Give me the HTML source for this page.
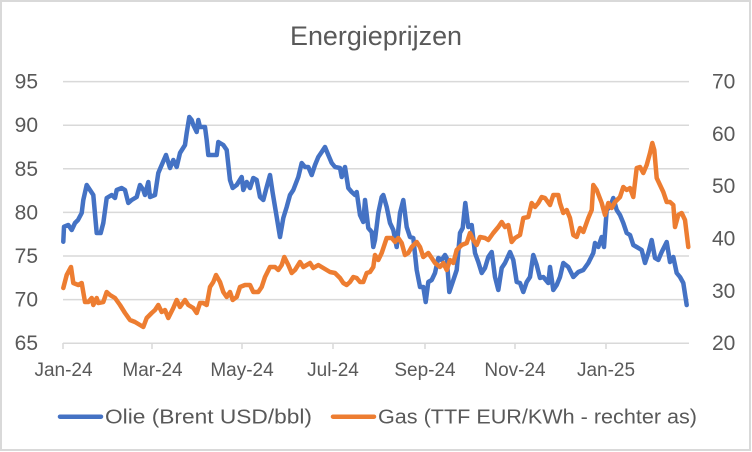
<!DOCTYPE html>
<html>
<head>
<meta charset="utf-8">
<style>
html,body{margin:0;padding:0;background:#fff;}
svg{display:block;}
text{font-family:"Liberation Sans",Arial,sans-serif;fill:#595959;}
</style>
</head>
<body>
<svg width="752" height="452" viewBox="0 0 752 452" xmlns="http://www.w3.org/2000/svg">
<rect x="1" y="1" width="749" height="449" fill="#fff" stroke="#d9d9d9" stroke-width="2"/>
<text x="376" y="45" font-size="27" text-anchor="middle" textLength="172" lengthAdjust="spacingAndGlyphs">Energieprijzen</text>
<g stroke="#d9d9d9" stroke-width="1.5">
<line x1="63" y1="81.6" x2="689" y2="81.6"/>
<line x1="63" y1="125.2" x2="689" y2="125.2"/>
<line x1="63" y1="168.8" x2="689" y2="168.8"/>
<line x1="63" y1="212.4" x2="689" y2="212.4"/>
<line x1="63" y1="256" x2="689" y2="256"/>
<line x1="63" y1="299.6" x2="689" y2="299.6"/>
<line x1="63" y1="343.2" x2="689" y2="343.2"/>
<line x1="63" y1="343" x2="63" y2="349"/>
<line x1="152" y1="343" x2="152" y2="349"/>
<line x1="242" y1="343" x2="242" y2="349"/>
<line x1="333" y1="343" x2="333" y2="349"/>
<line x1="425" y1="343" x2="425" y2="349"/>
<line x1="515" y1="343" x2="515" y2="349"/>
<line x1="606" y1="343" x2="606" y2="349"/>
</g>
<g font-size="21" text-anchor="end">
<text x="38" y="88.6">95</text>
<text x="38" y="132.2">90</text>
<text x="38" y="175.8">85</text>
<text x="38" y="219.4">80</text>
<text x="38" y="263">75</text>
<text x="38" y="306.6">70</text>
<text x="38" y="350.2">65</text>
</g>
<g font-size="21" text-anchor="start">
<text x="712" y="88.6">70</text>
<text x="712" y="140.9">60</text>
<text x="712" y="193.2">50</text>
<text x="712" y="245.6">40</text>
<text x="712" y="297.9">30</text>
<text x="712" y="350.2">20</text>
</g>
<g font-size="19" text-anchor="middle">
<text x="63.5" y="376">Jan-24</text>
<text x="152.5" y="376">Mar-24</text>
<text x="242" y="376">May-24</text>
<text x="333" y="376">Jul-24</text>
<text x="425" y="376">Sep-24</text>
<text x="515" y="376">Nov-24</text>
<text x="606" y="376">Jan-25</text>
</g>
<polyline fill="none" stroke="#4472C4" stroke-width="4.5" stroke-linejoin="round" stroke-linecap="round" points="63.3,241.7 64,226.7 68.3,225 71.7,230 75,223 78,220 81.7,213 83.3,200 86.7,185 90,190 93.3,195 96.7,233 100.7,233 103.3,223 106.7,198 111.7,195 115,198 116.7,190 121.7,188 125,190 128.3,203 131.7,200 136.7,197 140,185 143.3,190 145,195 148.3,182 150,197 155,195 158.3,173 161.7,165 166,155 170,168 173.3,160 176.7,167 180,153 185,145 186.7,133 189.3,117 191.7,120 193.3,125 196.7,132 198.3,120 200,127 205,127 206.7,140 208.3,155 216.7,155 218.3,142 223.3,145 226.7,150 230,180 232.7,188 236.7,185 241.7,177 243.3,190 246.7,182 250,188 253.3,178 256.7,180 260,197 263.3,200 266.7,187 270,175 272.7,193 276.7,217 280,237 283.3,218 286.7,207 290,195 293.3,190 298.3,177 301.7,163 305,167 308.3,167 311.7,175 315,165 318.3,157 321.7,152 325,147 328.3,155 331.7,163 335,167 340,168 341.7,177 345,167 348.3,188 351.7,192 355,195 356.7,192 360,215 363.3,222 365,200 368.3,228 371.7,232 373.3,247 375,240 378.3,213 381.7,197 383.3,195 386.7,207 390,223 393.3,230 396.7,247 398.3,230 400,213 403.3,200 406.7,227 410,237 413.3,238 416.7,270 420,287 423.3,287 425.7,302 428.3,282 431.7,280 435,273 438.3,258 441.7,260 445,255 446.7,258 449.3,292 452.7,282 456.7,270 460,233 462.7,228 465.3,203 468.3,227 471.7,225 475,253 478.3,262 481.7,273 485,268 488.3,257 491.7,252 495,277 498.3,290 501.7,268 505,263 510,252 513.3,260 516.7,282 520,283 523.3,292 526.7,282 530,277 533.3,255 536.7,265 540,278 543.3,277 548.3,283 550,267 553.3,290 556.7,285 560,277 563.3,263 568.3,267 573.3,277 578.3,272 583.3,270 588.3,263 593.3,253 595,243 598.3,247 601.7,237 604,247 606.7,210 610,207 613.3,198 616.7,210 620,215 623.3,223 626.7,233 630,235 633.3,245 636.7,247 641.7,250 645,263 648.3,253 651.7,240 655,258 658.3,260 661.7,252 666.7,242 670,262 673.3,257 676.7,273 680,277 683.3,283 686.7,305"/>
<polyline fill="none" stroke="#ED7D31" stroke-width="4.5" stroke-linejoin="round" stroke-linecap="round" points="63.3,288 66.7,275 71,267 73.3,283 78.3,285 81.7,283 85,302 88.3,302 91.7,298 93.3,305 96.7,298 98.3,303 103.3,302 106.7,292 110,295 115,298 120,305 125,313 130,320 135,322 140,325 143.3,327 146.7,318 151.7,313 155,310 158.3,305 161.7,312 165,310 168.3,318 173.3,308 176.7,300 180,307 185,300 188.3,305 193.3,308 196.7,313 200,303 203.3,303 206.7,305 210,287 213.3,282 216,275 220,282 223.3,292 226.7,297 230,292 232.7,300 236.7,297 240,287 245,285 250,285 253.3,292 258.3,292 261.7,287 265,277 270,267 275,267 278.3,270 281.7,265 284.3,257 288.3,265 291.7,273 295,270 300,262 303.3,267 306.7,265 310,263 313.3,268 318.3,265 323.3,268 330,272 335,273 340,278 343.3,283 346.7,285 350,282 353.3,277 356.7,278 360,282 363.3,282 366.7,273 370,272 373.3,267 375,255 378.3,260 381.7,253 386.7,238 391.7,238 395,242 398.3,238 401.7,243 405,255 408.3,253 411.7,247 416.7,242 420,247 423.3,257 428.3,253 431.7,258 435,263 440,267 443.3,263 446.7,270 450,260 453.3,263 456.7,250 461.7,245 466.7,243 470,233 473.3,240 476.7,245 480,237 485,238 488.3,240 493.3,233 498.3,227 501.7,222 505,227 508.3,225 511.7,242 515,238 520,235 523.3,218 528.3,217 531.7,203 535,207 538.3,203 541.7,197 545,198 550,205 553.3,195 558.3,195 560,203 563.3,213 566.7,210 570,218 573.3,235 576.7,237 580,228 583.3,232 588.3,218 591.7,210 593.3,185 596.7,190 601.7,203 605,215 608.3,203 611.7,208 615,202 620,197 623.3,187 626.7,190 630,188 633.3,197 636.7,168 640,167 643.3,173 646.7,165 650,153 652.3,143 654.3,150 656.7,178 660,185 663.3,192 666.7,202 670,202 673.3,205 675,227 678.3,215 681.7,213 685,220 688.3,247"/>
<line x1="60" y1="416.7" x2="101" y2="416.7" stroke="#4472C4" stroke-width="4.5" stroke-linecap="round"/>
<text x="105" y="423.5" font-size="20" textLength="207" lengthAdjust="spacingAndGlyphs">Olie (Brent USD/bbl)</text>
<line x1="333" y1="416.7" x2="374" y2="416.7" stroke="#ED7D31" stroke-width="4.5" stroke-linecap="round"/>
<text x="378" y="423.5" font-size="20" textLength="319" lengthAdjust="spacingAndGlyphs">Gas (TTF EUR/KWh - rechter as)</text>
</svg>
</body>
</html>
